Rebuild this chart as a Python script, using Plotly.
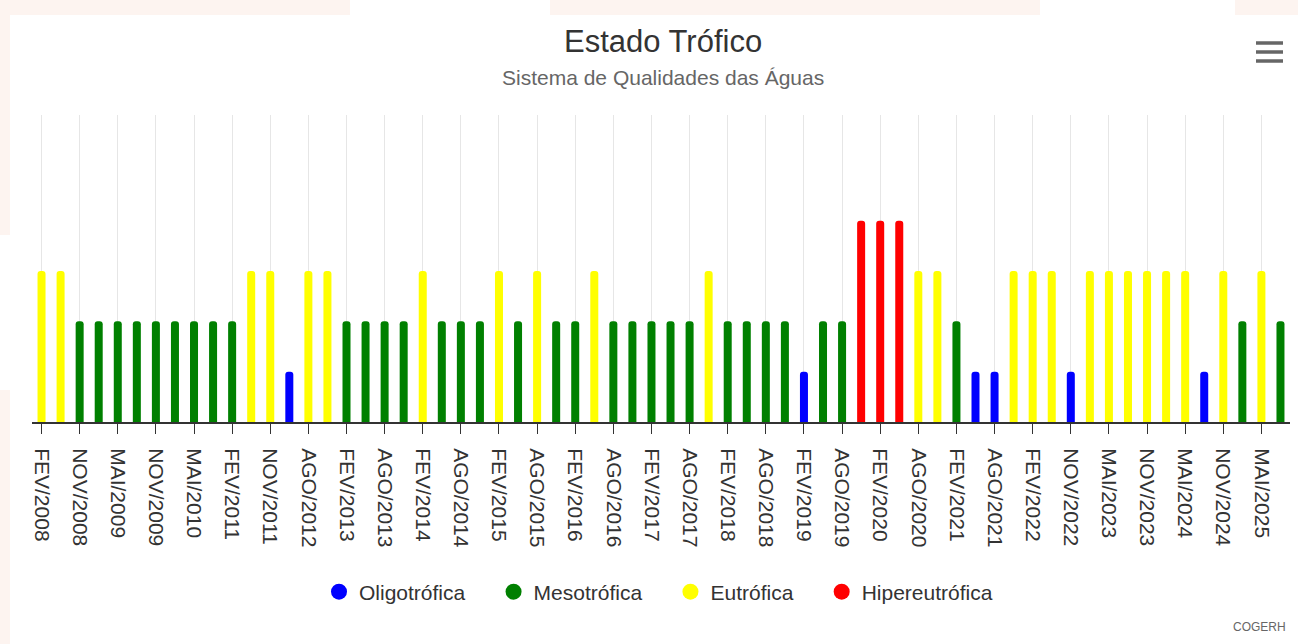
import plotly.graph_objects as go

categorias = [
    "FEV/2008", "MAI/2008", "NOV/2008", "FEV/2009", "MAI/2009", "AGO/2009",
    "NOV/2009", "FEV/2010", "MAI/2010", "NOV/2010", "FEV/2011", "MAI/2011",
    "NOV/2011", "FEV/2012", "AGO/2012", "NOV/2012", "FEV/2013", "MAI/2013",
    "AGO/2013", "NOV/2013", "FEV/2014", "MAI/2014", "AGO/2014", "NOV/2014",
    "FEV/2015", "MAI/2015", "AGO/2015", "NOV/2015", "FEV/2016", "MAI/2016",
    "AGO/2016", "NOV/2016", "FEV/2017", "MAI/2017", "AGO/2017", "NOV/2017",
    "FEV/2018", "MAI/2018", "AGO/2018", "NOV/2018", "FEV/2019", "MAI/2019",
    "AGO/2019", "NOV/2019", "FEV/2020", "MAI/2020", "AGO/2020", "NOV/2020",
    "FEV/2021", "MAI/2021", "AGO/2021", "NOV/2021", "FEV/2022", "AGO/2022",
    "NOV/2022", "FEV/2023", "MAI/2023", "AGO/2023", "NOV/2023", "FEV/2024",
    "MAI/2024", "AGO/2024", "NOV/2024", "FEV/2025", "MAI/2025", "AGO/2025",
]

# O = Oligotrófica, M = Mesotrófica, E = Eutrófica, H = Hipereutrófica
estado = [
    "E", "E", "M", "M", "M", "M", "M", "M", "M", "M", "M", "E",
    "E", "O", "E", "E", "M", "M", "M", "M", "E", "M", "M", "M",
    "E", "M", "E", "M", "M", "E", "M", "M", "M", "M", "M", "E",
    "M", "M", "M", "M", "O", "M", "M", "H", "H", "H", "E", "E",
    "M", "O", "O", "E", "E", "E", "O", "E", "E", "E", "E", "E",
    "E", "O", "E", "M", "E", "M",
]

classes = ["O", "M", "E", "H"]
nomes = ["Oligotrófica", "Mesotrófica", "Eutrófica", "Hipereutrófica"]
valores = [1, 2, 3, 4]
cores = ["#0000ff", "#008000", "#ffff00", "#ff0000"]

rotulos = categorias[::2]

FONT = "Liberation Sans, Arial, sans-serif"
W, HGT = 1298, 644
PLOT_LEFT, PLOT_RIGHT = 32, 1290
PLOT_TOP, PLOT_BOTTOM = 115, 422
PW = PLOT_RIGHT - PLOT_LEFT
PH = PLOT_BOTTOM - PLOT_TOP


def px(xpix):
    return (xpix - PLOT_LEFT) / PW


def py(ypix):
    return (PLOT_BOTTOM - ypix) / PH


fig = go.Figure()
for cls, nome, val, cor in zip(classes, nomes, valores, cores):
    ys = [val if e == cls else None for e in estado]
    fig.add_trace(go.Bar(
        x=categorias, y=ys, name=nome,
        marker=dict(color=cor, cornerradius=3, line=dict(width=0)),
        width=0.42, showlegend=False, legendgroup=nome,
    ))
for nome, cor in zip(nomes, cores):
    fig.add_trace(go.Scatter(
        x=[None], y=[None], mode="markers", name=nome + "\u00a0\u00a0\u00a0\u00a0",
        legendgroup=nome,
        marker=dict(color=cor, size=16, symbol="circle"),
    ))

# decorative page background (pale peach outside the white card)
peach = "#fdf4f0"
bg_rects = [(0, 0, 350, 15), (550, 0, 1040, 15), (1235, 0, 1298, 15),
            (0, 15, 10, 235), (0, 390, 10, 644)]
shapes = []
for x0, y0, x1, y1 in bg_rects:
    shapes.append(dict(type="rect", xref="paper", yref="paper",
                       x0=px(x0), x1=px(x1), y0=py(y0), y1=py(y1),
                       fillcolor=peach, line=dict(width=0), layer="below"))
# export-menu (hamburger) icon
for yy in (43, 52, 61):
    shapes.append(dict(type="line", xref="paper", yref="paper",
                       x0=px(1256), x1=px(1283), y0=py(yy), y1=py(yy),
                       line=dict(color="#666666", width=3.5)))

fig.update_layout(
    width=W, height=HGT,
    margin=dict(l=PLOT_LEFT, r=W - PLOT_RIGHT, t=PLOT_TOP, b=HGT - PLOT_BOTTOM, pad=0),
    paper_bgcolor="white", plot_bgcolor="white",
    barmode="overlay",
    font=dict(family=FONT, color="#333333"),
    xaxis=dict(
        type="category", categoryorder="array", categoryarray=categorias,
        range=[-0.5, len(categorias) - 0.5],
        tickmode="array", tickvals=rotulos, ticktext=rotulos,
        tickangle=90, tickfont=dict(size=21, color="#333333"),
        ticks="outside", ticklen=10, tickcolor="#333333", tickwidth=1,
        showgrid=True, gridcolor="#e6e6e6", gridwidth=1,
        showline=True, linecolor="#333333", linewidth=2,
        zeroline=False, ticklabelstandoff=10,
    ),
    yaxis=dict(range=[0, 6.1], showgrid=False, showticklabels=False,
               zeroline=False, showline=False, ticks=""),
    legend=dict(orientation="h", x=px(670), xanchor="center", y=py(592), yanchor="middle",
                font=dict(size=21, color="#333333"),
                bgcolor="rgba(0,0,0,0)"),
    shapes=shapes,
    annotations=[
        dict(text="Estado Trófico", xref="paper", yref="paper", x=px(663), y=py(42),
             xanchor="center", yanchor="middle", showarrow=False,
             font=dict(size=31, color="#333333", family=FONT)),
        dict(text="Sistema de Qualidades das Águas", xref="paper", yref="paper",
             x=px(663), y=py(78),
             xanchor="center", yanchor="middle", showarrow=False,
             font=dict(size=21, color="#666666", family=FONT)),
        dict(text="COGERH", xref="paper", yref="paper", x=px(1288), y=py(627),
             xanchor="right", yanchor="middle", showarrow=False,
             font=dict(size=12, color="#666666", family=FONT)),
    ],
)

fig.write_html("out.html", config={"displayModeBar": False},
               post_script="document.body.style.margin='0';")
